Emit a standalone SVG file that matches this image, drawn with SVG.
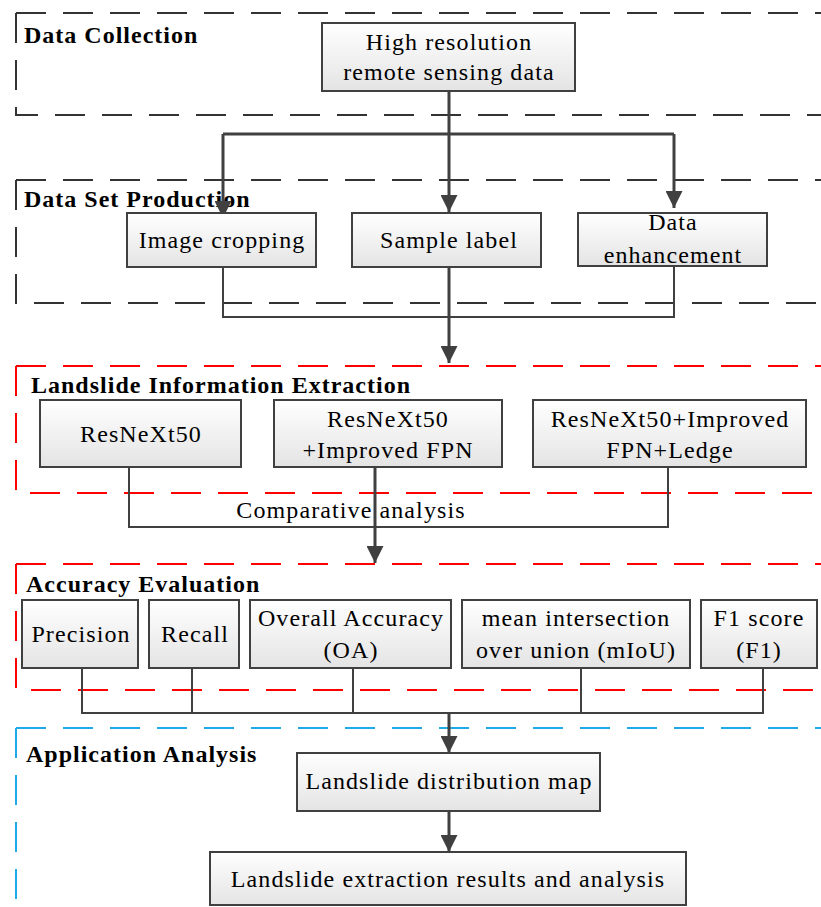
<svg xmlns="http://www.w3.org/2000/svg" width="821" height="907" viewBox="0 0 821 907">
  <defs>
    <linearGradient id="boxFill" x1="0" y1="0" x2="0" y2="1">
      <stop offset="0" stop-color="#ffffff"/>
      <stop offset="1" stop-color="#e4e4e4"/>
    </linearGradient>
    <marker id="arrow" markerUnits="userSpaceOnUse" markerWidth="17" markerHeight="17" viewBox="0 0 17 17" refX="17" refY="8.5" orient="auto">
      <path d="M0,0 L17,8.5 L0,17 z" fill="#404040"/>
    </marker>
    <style>
      .frame { fill: none; stroke-width: 2; stroke-dasharray: 30 17; }
      .black { stroke: #333333; }
      .red { stroke: #ff0000; }
      .blue { stroke: #1eaae6; }
      .box { fill: url(#boxFill); stroke: #404040; stroke-width: 2; }
      .title { font-family: "Liberation Serif", "Times New Roman", serif; font-weight: bold; font-size: 24px; letter-spacing: 1px; fill: #000; }
      .label { font-family: "Liberation Serif", "Times New Roman", serif; font-size: 24px; letter-spacing: 1.1px; fill: #000; text-anchor: middle; }
      .link { fill: none; stroke: #404040; stroke-width: 2; }
      .flow { fill: none; stroke: #404040; stroke-width: 3; }
      .arrowed { marker-end: url(#arrow); }
    </style>
  </defs>

  <rect width="821" height="907" fill="#ffffff"/>

  <!-- stage frames: each side starts its dash at the left corner, right edge left open -->
  <g id="frames">
    <path class="frame black" d="M16,13 H830 M16,13 V115 H830"/>
    <path class="frame black" d="M16,180 H830 M16,180 V303 H830"/>
    <path class="frame red" d="M16,366 H830 M16,366 V493 H830"/>
    <path class="frame red" d="M16,564 H830 M16,564 V690 H830"/>
    <path class="frame blue" d="M16,728 H830 M16,728 V920"/>
  </g>

  <!-- stage titles -->
  <g id="titles">
    <text class="title" x="24" y="43">Data Collection</text>
    <text class="title" x="24" y="207">Data Set Production</text>
    <text class="title" x="31" y="393">Landslide Information Extraction</text>
    <text class="title" x="26" y="592">Accuracy Evaluation</text>
    <text class="title" x="26" y="762">Application Analysis</text>
  </g>

  <!-- connectors -->
  <g id="connectors">
    <path class="flow" d="M449,91 V134 M223,134 H674"/>
    <path class="flow arrowed" d="M223,134 V218"/>
    <path class="flow arrowed" d="M449,134 V212"/>
    <path class="flow arrowed" d="M674,134 V208"/>

    <path class="link" d="M223,267 V317 H674 V266"/>
    <path class="flow arrowed" d="M449,267 V363"/>

    <path class="link" d="M129,467 V527 H668 V467"/>
    <path class="flow arrowed" d="M375,467 V563"/>

    <path class="link" d="M82,668 V713 H763 V668 M192,668 V713 M353,668 V713 M581,668 V713"/>
    <path class="flow arrowed" d="M449,713 V753"/>

    <path class="flow arrowed" d="M449,811 V852"/>
  </g>

  <!-- Data Collection -->
  <g id="node-hr-data">
    <rect class="box" x="322" y="23" width="253" height="68"/>
    <text class="label" x="449" y="50">High resolution</text>
    <text class="label" x="449" y="80">remote sensing data</text>
  </g>

  <!-- Data Set Production -->
  <g id="node-image-cropping">
    <rect class="box" x="127" y="213" width="189" height="54"/>
    <text class="label" x="222" y="248">Image cropping</text>
  </g>
  <g id="node-sample-label">
    <rect class="box" x="352" y="213" width="189" height="54"/>
    <text class="label" x="449" y="248">Sample label</text>
  </g>
  <g id="node-data-enhancement">
    <rect class="box" x="578" y="213" width="189" height="53"/>
    <text class="label" x="673" y="230">Data</text>
    <text class="label" x="673" y="263">enhancement</text>
  </g>

  <!-- Landslide Information Extraction -->
  <g id="node-resnext50">
    <rect class="box" x="40" y="400" width="201" height="67"/>
    <text class="label" x="141" y="442">ResNeXt50</text>
  </g>
  <g id="node-resnext50-fpn">
    <rect class="box" x="274" y="400" width="228" height="67"/>
    <text class="label" x="388" y="427">ResNeXt50</text>
    <text class="label" x="388" y="458">+Improved FPN</text>
  </g>
  <g id="node-resnext50-fpn-ledge">
    <rect class="box" x="533" y="400" width="273" height="67"/>
    <text class="label" x="670" y="427">ResNeXt50+Improved</text>
    <text class="label" x="670" y="458">FPN+Ledge</text>
  </g>
  <text class="label" x="351" y="518">Comparative analysis</text>

  <!-- Accuracy Evaluation -->
  <g id="node-precision">
    <rect class="box" x="22" y="600" width="116" height="68"/>
    <text class="label" x="81" y="642">Precision</text>
  </g>
  <g id="node-recall">
    <rect class="box" x="149" y="600" width="90" height="68"/>
    <text class="label" x="195" y="642">Recall</text>
  </g>
  <g id="node-oa">
    <rect class="box" x="250" y="600" width="201" height="68"/>
    <text class="label" x="351" y="626">Overall Accuracy</text>
    <text class="label" x="351" y="658">(OA)</text>
  </g>
  <g id="node-miou">
    <rect class="box" x="462" y="600" width="228" height="68"/>
    <text class="label" x="576" y="626">mean intersection</text>
    <text class="label" x="576" y="658">over union (mIoU)</text>
  </g>
  <g id="node-f1">
    <rect class="box" x="701" y="600" width="116" height="68"/>
    <text class="label" x="759" y="626">F1 score</text>
    <text class="label" x="759" y="658">(F1)</text>
  </g>

  <!-- Application Analysis -->
  <g id="node-distribution-map">
    <rect class="box" x="297" y="753" width="303" height="58"/>
    <text class="label" x="449" y="789">Landslide distribution map</text>
  </g>
  <g id="node-extraction-results">
    <rect class="box" x="210" y="852" width="476" height="53"/>
    <text class="label" x="448" y="887">Landslide extraction results and analysis</text>
  </g>
</svg>
